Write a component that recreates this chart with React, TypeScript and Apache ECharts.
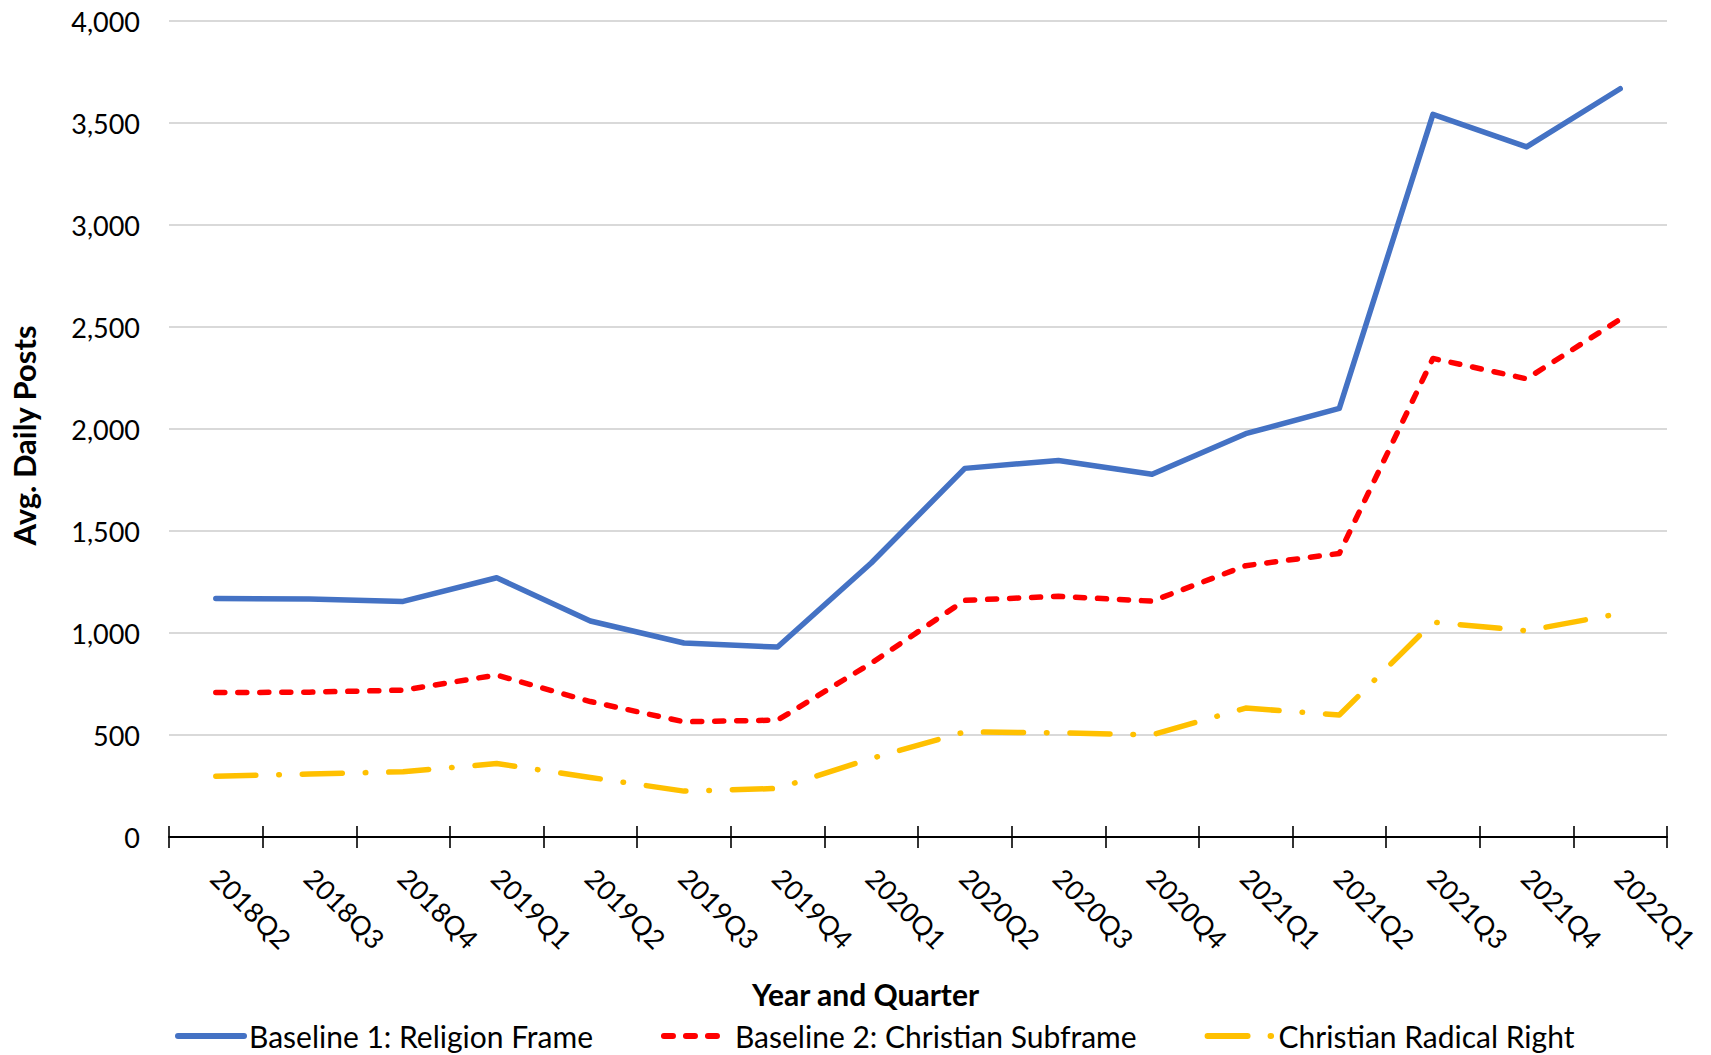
import React, { useEffect, useRef } from "react";
import * as echarts from "echarts";

const categories = [
  "2018Q2", "2018Q3", "2018Q4", "2019Q1", "2019Q2", "2019Q3", "2019Q4", "2020Q1",
  "2020Q2", "2020Q3", "2020Q4", "2021Q1", "2021Q2", "2021Q3", "2021Q4", "2022Q1",
];
const religionFrame = [1169, 1167, 1155, 1271, 1059, 951, 931, 1343, 1807, 1846, 1778, 1977, 2101, 3542, 3383, 3668];
const christianSubframe = [708, 710, 720, 794, 664, 565, 573, 852, 1160, 1180, 1156, 1330, 1390, 2346, 2246, 2538];
const radicalRight = [298, 309, 320, 360, 292, 225, 238, 385, 515, 511, 501, 632, 598, 1053, 1011, 1096];

const seriesNames = [
  "Baseline 1: Religion Frame",
  "Baseline 2: Christian Subframe",
  "Christian Radical Right",
];
const yMin = 0;
const yMax = 4000;
const yInterval = 500;

const FONT = "Lato";

export default function App() {
  const ref = useRef<HTMLDivElement>(null);

  useEffect(() => {
    if (!ref.current) return;
    const chart = echarts.init(ref.current, undefined, { renderer: "svg" });
    const option: any = {
      animation: false,
      backgroundColor: "#ffffff",
      textStyle: { fontFamily: FONT, color: "#000" },
      grid: { left: 168, right: 44, top: 21, bottom: 218 },
      legend: {
        left: 175,
        top: 1021,
        itemWidth: 66,
        itemHeight: 28,
        itemGap: 68,
        padding: 0,
        textStyle: { fontFamily: FONT, fontSize: 30, lineHeight: 30, color: "#000" },
        lineStyle: { width: 6 },
        itemStyle: { opacity: 0 },
        data: seriesNames,
      },
      xAxis: [
        {
          type: "category",
          data: categories,
          boundaryGap: true,
          position: "bottom",
          name: "Year and Quarter",
          nameLocation: "middle",
          nameGap: 142,
          nameTextStyle: {
            fontFamily: FONT,
            fontSize: 30,
            fontWeight: "bold",
            color: "#000",
            padding: [0, 105, 0, 0],
          },
          axisLine: { show: true, lineStyle: { color: "#000", width: 2 } },
          axisTick: { show: true, alignWithLabel: false, length: 11, lineStyle: { color: "#000", width: 1.6 } },
          axisLabel: {
            rotate: -45,
            margin: 36,
            interval: 0,
            fontFamily: FONT,
            fontSize: 27,
            color: "#000",
          },
          splitLine: { show: false },
        },
        {
          type: "category",
          data: categories,
          boundaryGap: true,
          position: "bottom",
          axisLine: { show: false },
          axisTick: { show: true, inside: true, alignWithLabel: false, length: 11, lineStyle: { color: "#000", width: 1.6 } },
          axisLabel: { show: false },
          splitLine: { show: false },
        },
      ],
      yAxis: {
        type: "value",
        min: yMin,
        max: yMax,
        interval: yInterval,
        name: "Avg. Daily Posts",
        nameLocation: "middle",
        nameGap: 130,
        nameTextStyle: {
          fontFamily: FONT,
          fontSize: 31,
          fontWeight: "bold",
          color: "#000",
          padding: [0, 13, 0, 0],
        },
        axisLine: { show: false },
        axisTick: { show: false },
        axisLabel: {
          margin: 29,
          fontFamily: FONT,
          fontSize: 27,
          color: "#000",
          formatter: (v: number) => v.toLocaleString("en-US"),
        },
        splitLine: { show: true, lineStyle: { color: "#d9d9d9", width: 2 } },
      },
      series: [
        {
          name: seriesNames[0],
          type: "line",
          data: religionFrame,
          symbol: "none",
          z: 3,
          lineStyle: { color: "#4472C4", width: 5.5, cap: "round", join: "round" },
          itemStyle: { color: "#4472C4" },
        },
        {
          name: seriesNames[1],
          type: "line",
          data: christianSubframe,
          symbol: "none",
          z: 3,
          lineStyle: { color: "#FF0000", width: 5.5, type: [9, 13], cap: "round", join: "round" },
          itemStyle: { color: "#FF0000" },
        },
        {
          name: seriesNames[2],
          type: "line",
          data: radicalRight,
          symbol: "none",
          z: 3,
          lineStyle: { color: "#FFC000", width: 5.5, type: [40, 23, 0.5, 23], cap: "round", join: "round" },
          itemStyle: { color: "#FFC000" },
        },
      ],
    };
    chart.setOption(option);
    return () => chart.dispose();
  }, []);

  return (
    <div
      ref={ref}
      style={{ position: "fixed", left: 0, top: 0, width: 1711, height: 1055, background: "#fff" }}
    />
  );
}
